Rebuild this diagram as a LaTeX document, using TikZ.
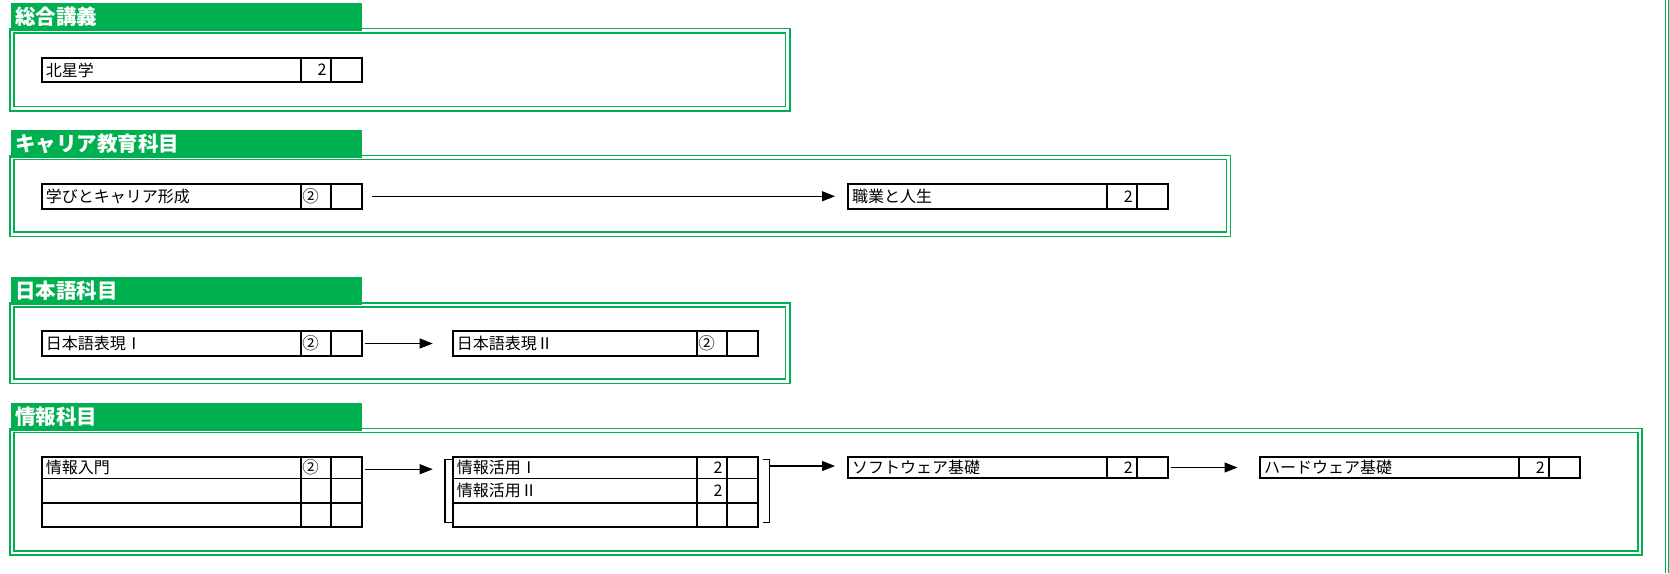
\documentclass[tikz,border=0pt]{standalone}
\usepackage{fontspec}
\setmainfont{Noto Sans CJK JP}
\usetikzlibrary{arrows.meta}
\definecolor{exgreen}{HTML}{00B050}
\newcommand\crs[8]{%
  \node[cbox, minimum width=#4pt, minimum height=#5pt] (#1) at (#2,#3) {};
  \draw[divl] ([xshift=-61pt]#1.north east) -- ([xshift=-61pt]#1.south east);
  \draw[divl] ([xshift=-31pt]#1.north east) -- ([xshift=-31pt]#1.south east);
  \node[lbl] (#1-l) at ([xshift=4pt]#1.west) {#6};
  \node[#8] (#1-n) at (#1.east) {#7};
}
\newcommand\tbl[4]{%
  \node[cbox, minimum width=#4pt, minimum height=70pt] (#1) at (#2,#3) {};
  \draw[divl] ([xshift=-61pt]#1.north east) -- ([xshift=-61pt]#1.south east);
  \draw[divl] ([xshift=-31pt]#1.north east) -- ([xshift=-31pt]#1.south east);
  \draw[divl] ([yshift=-21.6pt]#1.north west) -- ([yshift=-21.6pt]#1.north east);
  \draw[divl] ([yshift=-46pt]#1.north west) -- ([yshift=-46pt]#1.north east);
}
\newcommand\frm[4]{%
  \draw[frameline] (#1,#2) rectangle (#3,#4);
  \draw[frameline] ({#1+4.2},{#2+4.2}) rectangle ({#3-4.2},{#4-4.2});
}
\begin{document}
\begin{tikzpicture}[x=1pt,y=-1pt,
  frameline/.style={draw=exgreen, line width=1.6pt},
  hdr/.style={fill=exgreen, draw=none},
  hdrtext/.style={anchor=west, text=white, inner sep=0, font=\fontsize{20.5}{22}\selectfont\bfseries},
  cbox/.style={draw=black, line width=2pt, anchor=north west, inner sep=0, outer sep=0},
  divl/.style={draw=black, line width=1.6pt},
  lbl/.style={anchor=west, inner sep=0, font=\fontsize{16}{18}\selectfont},
  numA/.style={anchor=east, xshift=-35pt, inner sep=0, font=\fontsize{16}{18}\selectfont},
  numB/.style={anchor=west, xshift=-59.5pt, inner sep=0, font=\fontsize{16.5}{18}\selectfont},
  arr/.style={-{Triangle[length=13pt,width=10pt]}, line width=1.1pt},
  brk/.style={line width=1.6pt},
]
\useasboundingbox (0,0) rectangle (1669,573);
\fill[white] (0,0) rectangle (1669,573);

% page right edge double line
\draw[exgreen, line width=0.9pt] (1665.6,0) -- (1665.6,573);
\draw[exgreen, line width=0.9pt] (1668.4,0) -- (1668.4,573);

% headers
\fill[hdr] (11,2.7) rectangle (362,31);
\node[hdrtext] (h1) at (15,17) {総合講義};
\fill[hdr] (11,129.5) rectangle (362,157.8);
\node[hdrtext] (h2) at (15,143.6) {キャリア教育科目};
\fill[hdr] (11,276.9) rectangle (362,305.2);
\node[hdrtext] (h3) at (15,291) {日本語科目};
\fill[hdr] (11,402.5) rectangle (362,430.8);
\node[hdrtext] (h4) at (15,416.6) {情報科目};

% frames
\frm{10}{28.5}{789.8}{110.8}
\frm{10}{155.3}{1230.5}{236.3}
\frm{10}{302.7}{789.8}{383.3}
\frm{10}{428.3}{1642}{555}

% courses
\crs{hokusei}{41.7}{57.7}{320}{24.5}{北星学}{2}{numA}
\crs{gakubi}{41.7}{183.5}{320}{25.5}{学びとキャリア形成}{②}{numB}
\crs{shokugyo}{848}{183.5}{320}{25.5}{職業と人生}{2}{numA}
\crs{nihon1}{41.7}{331}{320}{25}{日本語表現Ⅰ}{②}{numB}
\crs{nihon2}{452.7}{331}{305}{25}{日本語表現Ⅱ}{②}{numB}
\crs{soft}{848}{456.7}{320}{21.6}{ソフトウェア基礎}{2}{numA}
\crs{hard}{1260}{456.7}{320}{21.6}{ハードウェア基礎}{2}{numA}

\tbl{joho}{41.7}{456.7}{320}
\node[lbl] (joho-l1) at ([xshift=4pt,yshift=-10.8pt]joho.north west) {情報入門};
\node[numB] (joho-n1) at ([yshift=-10.8pt]joho.north east) {②};

\tbl{katsuyo}{452.7}{456.7}{305}
\node[lbl] (katsuyo-l1) at ([xshift=4pt,yshift=-10.8pt]katsuyo.north west) {情報活用Ⅰ};
\node[numA] (katsuyo-n1) at ([yshift=-10.8pt]katsuyo.north east) {2};
\node[lbl] (katsuyo-l2) at ([xshift=4pt,yshift=-33.8pt]katsuyo.north west) {情報活用Ⅱ};
\node[numA] (katsuyo-n2) at ([yshift=-33.8pt]katsuyo.north east) {2};

% brackets
\draw[brk] (451.7,459.3) -- (445,459.3) -- (445,522.3) -- (451.7,522.3);
\draw[brk] (763.3,459.3) -- (769.3,459.3) -- (769.3,522.3) -- (763.3,522.3);
\coordinate (rbr) at (770,466);

% arrows
\draw[arr, shorten <=10pt, shorten >=13pt] (gakubi.east) -- (shokugyo.west);
\draw[arr, shorten <=3pt, shorten >=20pt] (nihon1.east) -- (nihon2.west);
\draw[arr, shorten <=3pt, shorten >=20pt] ([yshift=-12.5pt]joho.north east) -- ([yshift=-12.5pt]katsuyo.north west);
\draw[arr, shorten >=13pt] (rbr) -- (rbr -| soft.west);
\draw[arr, shorten <=3pt, shorten >=22.5pt] (soft.east) -- (hard.west);
\end{tikzpicture}
\end{document}
